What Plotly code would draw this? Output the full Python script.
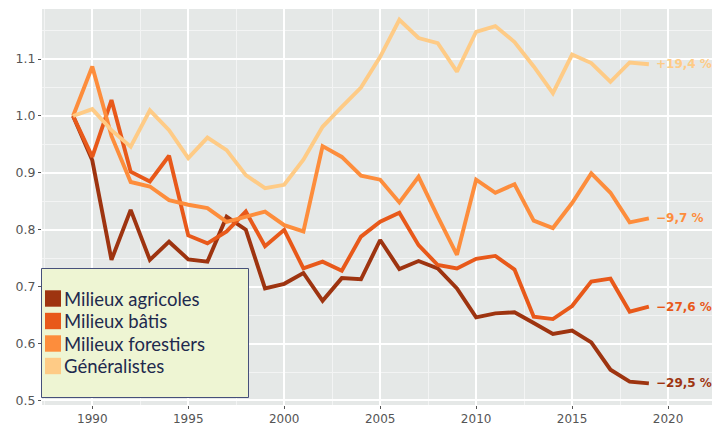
import plotly.graph_objects as go

years = list(range(1989, 2020))
series_names = ["Milieux agricoles", "Milieux bâtis", "Milieux forestiers", "Généralistes"]
agricoles = [1.0, 0.922, 0.747, 0.835, 0.747, 0.779, 0.748, 0.744, 0.823, 0.800, 0.697, 0.705, 0.724, 0.675, 0.715, 0.713,
             0.782, 0.731, 0.745, 0.732, 0.697, 0.646, 0.653, 0.655, 0.636, 0.617, 0.623, 0.602, 0.554, 0.533, 0.530]
batis = [1.0, 0.928, 1.028, 0.902, 0.885, 0.930, 0.790, 0.776, 0.797, 0.832, 0.771, 0.800, 0.732, 0.744, 0.728, 0.788,
         0.814, 0.830, 0.773, 0.738, 0.732, 0.749, 0.754, 0.730, 0.647, 0.643, 0.666, 0.709, 0.714, 0.656, 0.665]
forestiers = [1.0, 1.087, 0.965, 0.884, 0.876, 0.852, 0.844, 0.838, 0.814, 0.823, 0.832, 0.808, 0.797, 0.947, 0.928, 0.895,
              0.888, 0.848, 0.893, 0.823, 0.756, 0.888, 0.865, 0.880, 0.816, 0.803, 0.847, 0.899, 0.865, 0.813, 0.820]
generalistes = [1.0, 1.012, 0.975, 0.946, 1.010, 0.975, 0.926, 0.962, 0.940, 0.896, 0.873, 0.879, 0.923, 0.981, 1.016, 1.050,
                1.104, 1.169, 1.137, 1.128, 1.078, 1.148, 1.158, 1.130, 1.087, 1.040, 1.108, 1.093, 1.060, 1.094, 1.091]
end_labels = ["−29,5 %", "−27,6 %", "−9,7 %", "+19,4 %"]
x_ticks = [1990, 1995, 2000, 2005, 2010, 2015, 2020]
y_ticks = [0.5, 0.6, 0.7, 0.8, 0.9, 1.0, 1.1]

colors = ["#9E3410", "#E8591A", "#FD8D3C", "#FECB86"]
values = [agricoles, batis, forestiers, generalistes]

# the page body has an 8px margin, so the figure is sized to fit the 720x425 window
OFF = 8
W, H = 720 - OFF, 425 - OFF
PL, PR, PT, PB = 42, 717, 9, 405          # plot area in window pixels
ML, MR, MT, MB = PL - OFF, 720 - PR, PT - OFF, 425 - PB

def px(x):
    return (x - PL) / (PR - PL)

def py(y):
    return (PB - y) / (PB - PT)

fig = go.Figure()
for name, vals, col in zip(series_names, values, colors):
    fig.add_trace(go.Scatter(x=years, y=vals, mode="lines", name=name,
                             line=dict(color=col, width=3.9), showlegend=False))

annotations = []
for vals, col, lab in zip(values, colors, end_labels):
    annotations.append(dict(x=years[-1], y=vals[-1], xref="x", yref="y", text="<b>" + lab + "</b>", showarrow=False,
                            xanchor="left", yanchor="middle", xshift=5,
                            font=dict(family="DejaVu Sans", size=12, color=col)))

shapes = []
# custom legend box
shapes.append(dict(type="rect", xref="paper", yref="paper", x0=px(41.5), x1=px(248.5), y0=py(397.5), y1=py(268.5),
                   fillcolor="#EEF5D3", line=dict(color="#46507A", width=1), layer="above"))
centers = [298.5, 321, 343.5, 366]
for name, col, cy in zip(series_names, colors, centers):
    shapes.append(dict(type="rect", xref="paper", yref="paper", x0=px(45), x1=px(61), y0=py(cy + 8.2), y1=py(cy - 8.2),
                       fillcolor=col, line=dict(width=0), layer="above"))
    annotations.append(dict(x=px(61.5), y=py(cy), xref="paper", yref="paper", text=name, showarrow=False,
                            xanchor="left", yanchor="middle",
                            font=dict(family="Lato", size=18.5, color="#1E2A4E")))

fig.update_layout(
    width=W, height=H, margin=dict(l=ML, r=MR, t=MT, b=MB, autoexpand=False),
    paper_bgcolor="white", plot_bgcolor="#E5E8E7",
    shapes=shapes, annotations=annotations, showlegend=False,
    xaxis=dict(range=[1987.38, 2022.55], tickvals=x_ticks, showgrid=True, gridcolor="white", gridwidth=1.6,
               minor=dict(dtick=2.5, tick0=1987.5, showgrid=True, gridcolor="#F3F4F4", gridwidth=0.8),
               ticks="outside", ticklen=3, tickcolor="#555555", tickwidth=1, automargin=False,
               tickfont=dict(family="DejaVu Sans", size=12, color="#555555"), zeroline=False, showline=False),
    yaxis=dict(range=[0.492, 1.188], tickvals=y_ticks, tickformat=".1f", showgrid=True, gridcolor="white", gridwidth=1.6,
               minor=dict(dtick=0.05, tick0=0.45, showgrid=True, gridcolor="#F3F4F4", gridwidth=0.8),
               ticks="outside", ticklen=3, tickcolor="#555555", tickwidth=1, automargin=False,
               tickfont=dict(family="DejaVu Sans", size=12.5, color="#555555"), zeroline=False, showline=False),
)

fig.write_html("out.html")
